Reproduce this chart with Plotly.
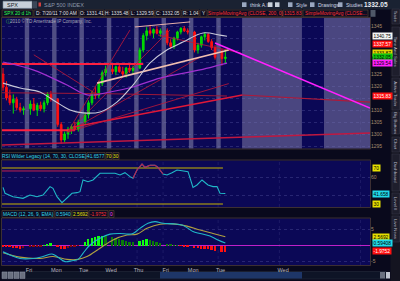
import plotly.graph_objects as go

W, H = 400, 281

# ---------------- data ----------------
# hourly bars on a session axis: one slot per bar, one empty slot per overnight gap
bar_slot = [0, 1, 2, 3, 4, 5, 6,
            8, 9, 10, 11, 12, 13, 14,
            16, 17, 18, 19, 20, 21, 22,
            24, 25, 26, 27, 28, 29, 30,
            32, 33, 34, 35, 36, 37, 38,
            40, 41, 42, 43, 44, 45, 46,
            48, 49, 50, 51, 52, 53, 54,
            56, 57, 58, 59, 60, 61, 62,
            64, 65]
opens = [1325.0, 1319.5, 1316.0, 1313.0, 1314.5, 1311.0, 1310.0,
         1310.5, 1312.5, 1310.0, 1312.0, 1310.5, 1313.0, 1316.5,
         1314.5, 1304.0, 1297.5, 1300.0, 1302.0, 1303.0, 1302.0,
         1305.0, 1308.0, 1313.0, 1317.0, 1316.0, 1321.0, 1325.5,
         1327.0, 1326.0, 1328.0, 1326.0, 1325.0, 1327.5, 1326.5,
         1327.5, 1335.0, 1341.0, 1343.0, 1342.0, 1343.5, 1342.0,
         1343.0, 1338.0, 1336.5, 1340.0, 1342.5, 1344.0, 1343.0,
         1342.5, 1335.0, 1337.0, 1340.5, 1341.5, 1338.5, 1336.0,
         1334.5, 1331.41]
highs = [1327.5, 1322.0, 1318.5, 1316.5, 1315.5, 1313.0, 1311.5,
         1314.0, 1315.0, 1313.0, 1313.5, 1314.0, 1317.5, 1318.0,
         1315.0, 1305.0, 1301.0, 1303.0, 1304.0, 1305.0, 1306.0,
         1309.0, 1314.0, 1318.0, 1319.5, 1322.0, 1326.5, 1328.5,
         1329.0, 1328.5, 1329.5, 1328.0, 1328.0, 1329.0, 1328.5,
         1336.0, 1342.0, 1344.5, 1345.5, 1344.0, 1345.0, 1344.0,
         1344.0, 1339.5, 1340.5, 1343.0, 1344.5, 1345.0, 1344.0,
         1343.0, 1338.0, 1341.0, 1342.5, 1342.0, 1339.5, 1337.0,
         1335.5, 1335.48]
lows = [1318.0, 1314.0, 1312.0, 1308.5, 1310.0, 1309.0, 1308.0,
        1308.0, 1309.5, 1307.5, 1309.5, 1309.0, 1312.0, 1313.5,
        1303.0, 1296.0, 1296.5, 1298.0, 1300.0, 1301.5, 1301.0,
        1304.0, 1306.5, 1312.0, 1314.5, 1315.0, 1320.0, 1324.0,
        1325.0, 1324.5, 1325.5, 1324.0, 1323.5, 1325.5, 1325.0,
        1327.0, 1334.0, 1339.0, 1341.0, 1340.0, 1341.5, 1340.5,
        1337.0, 1335.5, 1335.5, 1339.0, 1341.5, 1342.5, 1341.5,
        1334.0, 1333.5, 1336.0, 1339.0, 1338.0, 1335.0, 1331.0,
        1328.5, 1329.59]
closes = [1319.5, 1315.0, 1313.0, 1314.5, 1311.0, 1310.0, 1310.5,
          1312.5, 1310.0, 1312.0, 1310.5, 1313.0, 1316.5, 1314.5,
          1304.0, 1297.5, 1300.0, 1302.0, 1303.0, 1302.0, 1305.0,
          1308.0, 1313.0, 1317.0, 1316.0, 1321.0, 1325.5, 1327.0,
          1326.0, 1328.0, 1326.0, 1325.0, 1327.5, 1326.5, 1327.5,
          1335.0, 1341.0, 1343.0, 1342.0, 1343.5, 1342.0, 1343.0,
          1338.0, 1336.5, 1340.0, 1342.5, 1344.0, 1343.0, 1342.5,
          1335.0, 1337.0, 1340.5, 1341.5, 1338.5, 1336.0, 1332.0,
          1331.41, 1332.05]

gap_slots = [7, 15, 23, 31, 39, 47, 55, 63]
day_tick_slots = [7.6, 15.6, 23.6, 31.6, 39.6, 47.6, 55.6, 63.6, 81.9]
day_tick_text = ["Fri", "Mon", "Tue", "Wed", "Thu", "Fri", "Mon", "Tue", "Wed"]
future_blocks = [(69.9, 87.4), (93.85, 107.3)]
vgrid_slots = [39.2, 46.8, 62.9, 80.8, 104.5]

# moving averages (slot, value)
white_ma_x = [0, 5, 10.8, 14.6, 19.6, 23.4, 28.4, 33.3, 38, 43, 47.9, 52.6, 58.5, 63.4, 65.5]
white_ma_y = [1321.2, 1319.2, 1317.5, 1314.2, 1310.0, 1308.8, 1309.2, 1313.3, 1320.4, 1329.6,
              1335.0, 1338.3, 1342.1, 1341.2, 1340.75]
purple_ma_x = [0, 8.8, 18.7, 24.6, 31.3, 38, 45.9, 57.6, 63.4, 65.5]
purple_ma_y = [1330.0, 1326.7, 1320.4, 1316.3, 1317.5, 1319.6, 1323.3, 1326.7, 1328.8, 1329.54]
sma200_x = [-0.3, 30, 65.5]
sma200_y = [1317.2, 1316.8, 1315.83]

# chart drawings: (slot0, price0, slot1, price1)
drawings = {
    "red_h_upper": (-0.3, 1329.2, 41.0, 1329.2),
    "red_h_lower": (-0.3, 1301.6, 21.0, 1301.6),
    "red_rise": (20.5, 1302.9, 70.0, 1316.25),
    "red_future": (70.0, 1316.25, 107.3, 1313.3),
    "red_bottom": (-0.3, 1295.4, 107.3, 1300.4),
    "fan1": (18.9, 1300.8, 37.1, 1343.3),
    "fan2": (18.9, 1300.8, 48.8, 1343.3),
    "fan3": (18.9, 1300.8, 57.6, 1332.0),
    "fan4": (18.9, 1300.8, 66.0, 1321.0),
    "desc1": (9.0, 1333.0, 28.0, 1316.0),
    "desc2": (45.3, 1341.25, 69.6, 1333.75),
    "peach_low": (27.5, 1321.2, 66.0, 1335.0),
    "peach_top": (38.6, 1344.6, 54.7, 1346.7),
    "magenta": (62.0, 1337.9, 107.3, 1310.8),
}

rsi_x = [0, 0.58, 2.92, 5.84, 7.89, 9.93, 11.69, 13.74, 14.61, 15.78, 17.24, 18.71, 20.17, 21.63,
         22.51, 23.38, 24.85, 26.31, 28.35, 30.40, 32.74, 34.20, 35.66, 37.13, 38.00, 39.17,
         40.64, 41.51, 42.98, 44.44, 45.31, 46.78, 47.95, 49.41, 50.87, 52.33, 54.09, 55.55,
         56.72, 58.18, 59.93, 61.40, 62.57, 63.44, 65.0]
rsi_y = [48.5, 41.9, 38.1, 36.3, 40.0, 38.0, 40.0, 49.3, 47.4, 38.1, 31.5, 36.3, 41.9, 42.6,
         43.7, 56.7, 54.8, 56.7, 64.1, 64.1, 64.1, 62.2, 64.8, 60.4, 58.5, 67.8, 74.4, 70.7,
         73.0, 73.0, 70.7, 63.3, 62.2, 64.8, 67.8, 67.0, 65.9, 48.5, 51.1, 56.7, 51.1, 49.3,
         49.3, 41.9, 41.66]
rsi_hot = (24, 31)       # index span drawn in the overbought colour
rsi_drawn_level = (-0.3, 66.7, 22.5, 66.7)
rsi_levels = [70, 30]

macd_x = [0, 2.04, 4.96, 8.76, 11.69, 14.32, 15.78, 18.12, 20.17, 21.92, 23.38, 25.43, 28.35,
          31.28, 34.20, 36.54, 38.00, 40.05, 42.39, 44.44, 46.78, 49.70, 52.33, 54.09, 55.55,
          57.6, 60.52, 62.86, 65.0]
macd_y = [-2.1, -3.1, -4.2, -4.2, -3.6, -2.8, -3.6, -5.2, -4.9, -4.5, -2.6, 0.0, 2.1, 3.4, 3.6,
          3.4, 3.6, 5.2, 6.8, 7.3, 6.8, 6.6, 6.25, 5.2, 4.2, 3.6, 2.8, 1.6, 0.594]
sig_x = [0, 4.96, 10.81, 14.61, 18.71, 21.92, 24.55, 28.35, 32.16, 36.25, 39.17, 42.1, 45.9,
         49.7, 53.8, 57.6, 61.4, 65.0]
sig_y = [-2.4, -3.8, -4.2, -3.6, -4.5, -4.5, -3.6, -1.0, 1.6, 3.1, 3.4, 5.2, 6.5, 6.6, 5.9,
         4.7, 3.6, 2.5692]
hist = [-0.3, -0.5, -0.6, -0.8, -0.9, -1.0, -0.8,
        -0.6, -0.4, -0.3, -0.2, 0.1, 0.5, 0.8,
        -0.5, -1.0, -1.1, -0.9, -0.6, -0.3, -0.1,
        1.2, 1.9, 2.4, 2.8, 3.0, 3.1, 3.0,
        2.6, 2.2, 1.9, 1.6, 1.4, 1.2, 1.1,
        1.4, 1.8, 1.9, 1.7, 1.5, 1.2, 0.9,
        0.6, 0.3, 0.15, 0.05, -0.05, -0.2, -0.4,
        -0.7, -0.9, -1.0, -1.1, -1.2, -1.4, -1.6,
        -1.9, -1.975]

price_ticks = [1295, 1300, 1305, 1310, 1315, 1320, 1325, 1330, 1335, 1340, 1345]
price_tick_text = ["1295", "1300", "1305", "1310", "", "1320", "1325", "", "", "", "1345"]
price_boxes = [(1340.75, "1340.75", "#f4f4f4", "#000000"),
               (1337.57, "1337.57", "#ff1010", "#ffffff"),
               (1333.87, "1333.87", "#e6d800", "#000000"),
               (1332.05, "1332.05", "#10c810", "#000000"),
               (1329.54, "1329.54", "#ff20ff", "#000000"),
               (1315.83, "1315.83", "#ff1010", "#ffffff")]
rsi_boxes = [(70, "70", "#e6e000", "#000000"), (41.658, "41.658", "#20d8e8", "#000000"),
             (30, "30", "#e6e000", "#000000")]
macd_boxes = [(2.5692, "2.5692", "#e6e000", "#000000"), (0.59408, "0.59408", "#20d8e8", "#000000"),
              (-1.9752, "-1.9752", "#ff1010", "#ffffff")]

header_items = [(2, 33, "SPX 20 d 1h", "#30ff50"), (34, 79, "D: 7/20/11 7:00 AM", "#e0e0e0"),
                (80, 104, "O: 1331.41", "#e0e0e0"), (105, 129, "H: 1335.48", "#e0e0e0"),
                (130, 154, "L: 1329.59", "#e0e0e0"), (155, 181, "C: 1332.05", "#e0e0e0"),
                (182, 199, "R: 1.04", "#e0e0e0"), (200, 207, "Y", "#e0e0e0"),
                (208, 282, "SimpleMovingAvg (CLOSE, 200, 0)", "#ff3030"),
                (283, 302, "1315.83", "#ff3030"), (303, 368, "SimpleMovingAvg (CLOSE...", "#ff3030")]
rsi_items = [(2, 86, "RSI Wilder Legacy (14, 70, 30, CLOSE)", "#30d8e8"),
             (87, 105, "41.6577", "#30d8e8"), (106, 112, "70", "#e6e000"), (113, 119, "30", "#e6e000")]
macd_items = [(2, 54, "MACD (12, 26, 9, EMA)", "#30d8e8"), (55, 71, "0.5940", "#30d8e8"),
              (72, 88, "2.5692", "#e6e000"), (89, 108, "-1.9752", "#ff3030"), (109, 114, "0", "#ff40ff")]
tabs = [(9, 24, "Trade"), (27, 76, "Time And Sales"), (78, 110, "Active Trader"),
        (112, 134, "Big Buttons"), (137, 152, "Chart"), (154, 191, "Dashboard"),
        (193, 214, "Level II"), (216, 242, "Live News")]

# ---------------- layout geometry (pixels) ----------------
X_MIN, X_MAX = -0.3, 107.3
PLOT_L, PLOT_R = 2, 370
P_TOP, P_BOT = 18, 148.5
R_TOP, R_BOT = 160.5, 207
M_TOP, M_BOT = 218.5, 265
FONT = "Liberation Sans"
GRID = "rgba(120,120,190,0.28)"


def fx(x):
    return x / W


def fy(y):
    return 1 - y / H


fig = go.Figure()

fig.add_trace(go.Candlestick(
    x=bar_slot, open=opens, high=highs, low=lows, close=closes, xaxis="x", yaxis="y",
    increasing=dict(line=dict(color="#00e000", width=1), fillcolor="#00d000"),
    decreasing=dict(line=dict(color="#ff1010", width=1), fillcolor="#ff1010"),
    whiskerwidth=0, showlegend=False, hoverinfo="skip"))

fig.add_trace(go.Scatter(x=sma200_x, y=sma200_y, mode="lines", line=dict(color="#a01838", width=1),
                         yaxis="y", showlegend=False, hoverinfo="skip"))
draw_style = {
    "red_h_upper": ("#ff2040", 2), "red_h_lower": ("#ff2040", 2), "red_rise": ("#e01838", 1.5),
    "red_future": ("#b01838", 1.2), "red_bottom": ("#c01840", 1.5),
    "fan1": ("#c01838", 0.8), "fan2": ("#c01838", 0.8), "fan3": ("#c01838", 0.8),
    "fan4": ("#c01838", 0.8), "desc1": ("#c01838", 0.8), "desc2": ("#c01838", 0.8),
    "peach_low": ("#f2c0b0", 1.6), "peach_top": ("#e8b0a8", 1.0), "magenta": ("#ff20ff", 1.5),
}
for name, (x0, y0, x1, y1) in drawings.items():
    if name == "magenta":
        continue
    c, w = draw_style[name]
    fig.add_trace(go.Scatter(x=[x0, x1], y=[y0, y1], mode="lines", line=dict(color=c, width=w),
                             yaxis="y", showlegend=False, hoverinfo="skip"))
fig.add_trace(go.Scatter(x=purple_ma_x, y=purple_ma_y, mode="lines", line=dict(color="#a030d0", width=1.2),
                         line_shape="spline", yaxis="y", showlegend=False, hoverinfo="skip"))
fig.add_trace(go.Scatter(x=white_ma_x, y=white_ma_y, mode="lines", line=dict(color="#c8c8d8", width=1.1),
                         line_shape="spline", yaxis="y", showlegend=False, hoverinfo="skip"))
x0, y0, x1, y1 = drawings["magenta"]
c, w = draw_style["magenta"]
fig.add_trace(go.Scatter(x=[x0, x1], y=[y0, y1], mode="lines", line=dict(color=c, width=w),
                         yaxis="y", showlegend=False, hoverinfo="skip"))

# RSI
for lv in rsi_levels:
    fig.add_trace(go.Scatter(x=[X_MIN, 64.3], y=[lv, lv], mode="lines", line=dict(color="#c8b400", width=1),
                             yaxis="y2", showlegend=False, hoverinfo="skip"))
a0, b0, a1, b1 = rsi_drawn_level
fig.add_trace(go.Scatter(x=[a0, a1], y=[b0, b1], mode="lines", line=dict(color="#c02050", width=1),
                         yaxis="y2", showlegend=False, hoverinfo="skip"))
fig.add_trace(go.Scatter(x=rsi_x, y=rsi_y, mode="lines", line=dict(color="#20b8c8", width=1.1),
                         yaxis="y2", showlegend=False, hoverinfo="skip"))
i0, i1 = rsi_hot
fig.add_trace(go.Scatter(x=rsi_x[i0:i1 + 1], y=rsi_y[i0:i1 + 1], mode="lines",
                         line=dict(color="#c0184a", width=1.1),
                         yaxis="y2", showlegend=False, hoverinfo="skip"))

# MACD
hcol = []
for i, v in enumerate(hist):
    prev = hist[i - 1] if i > 0 else 0
    if v >= 0:
        hcol.append("#10ff10" if v >= prev else "#0a7a0a")
    else:
        hcol.append("#ff1010" if v <= prev else "#8a0a0a")
fig.add_trace(go.Bar(x=bar_slot, y=hist, width=0.55, marker=dict(color=hcol, line=dict(width=0)),
                     yaxis="y3", showlegend=False, hoverinfo="skip"))
fig.add_trace(go.Scatter(x=sig_x, y=sig_y, mode="lines", line=dict(color="#b0a040", width=1.1),
                         line_shape="spline", yaxis="y3", showlegend=False, hoverinfo="skip"))
fig.add_trace(go.Scatter(x=macd_x, y=macd_y, mode="lines", line=dict(color="#20b8c8", width=1.1),
                         line_shape="spline", yaxis="y3", showlegend=False, hoverinfo="skip"))

# ---------------- shapes ----------------
shapes = []


def prect(x0, y0, x1, y1, fill, line=None, lw=0.8, layer="below"):
    shapes.append(dict(type="rect", xref="paper", yref="paper", x0=fx(x0), x1=fx(x1), y0=fy(y1), y1=fy(y0),
                       fillcolor=fill, line=dict(color=line or fill, width=lw if line else 0), layer=layer))


# toolbar and header rows
prect(0, 0, 400, 9.5, "#1a2232")
prect(3, 1.2, 32, 8.3, "#c8d0da", "#8090a0", 0.6)
prect(33, 1.2, 37, 8.3, "#3a4658")
prect(38.5, 2.5, 41, 6.5, "#d04040")
prect(242, 2.3, 246.5, 7, "#9aa8c0")
prect(288, 2.3, 292.5, 7, "#9aa8c0")
prect(310, 2.3, 314.5, 7, "#9aa8c0")
prect(338, 2.3, 342.5, 7, "#9aa8c0")
prect(268, 2.3, 272.5, 7, "#c8d0da")
prect(275, 2.3, 279.5, 7, "#c8d0da")
for (a, b, _, _) in header_items:
    prect(a, 10, b, 16.8, "#0c0c22", "#5a4632", 0.6)
prect(370.5, 10, 375.5, 16.8, "#505868")
for (a, b, _, _) in rsi_items:
    prect(a, 152.5, b, 159.5, "#0c0c22", "#5a4632", 0.6)
for (a, b, _, _) in macd_items:
    prect(a, 210.5, b, 217.5, "#0c0c22", "#5a4632", 0.6)
# right tab column
prect(390.5, 9.5, 400, 281, "#141420")
for (a, b, _) in tabs:
    prect(392, a, 399.5, b, "#1e1e2c", "#3a3a4a", 0.5)
# scrollbar
prect(2, 271.5, 386, 279, "#0e1426", "#2a3040", 0.5)
prect(160, 272, 302, 278.5, "#1e3668")
for bx in [2, 8, 14, 20]:
    prect(bx, 272, bx + 5, 278.5, "#6a7080", "#9aa0b0", 0.4)
prect(380, 272, 385, 278.5, "#6a7080")
prect(386, 272, 390, 278.5, "#c0c4d0")
# panel borders
for (t, b) in [(P_TOP, P_BOT), (R_TOP, R_BOT), (M_TOP, M_BOT)]:
    prect(PLOT_L - 0.5, t - 0.5, PLOT_R + 0.5, b + 0.5, "rgba(0,0,0,0)", "#4a3a3a", 0.8, layer="above")

# session gap bands and future area in the price panel
for g in gap_slots:
    shapes.append(dict(type="rect", xref="x", yref="y domain", x0=g - 0.65, x1=g + 0.65, y0=0, y1=1,
                       fillcolor="#504e84", line=dict(width=0), layer="below"))
for (a, b) in future_blocks:
    shapes.append(dict(type="rect", xref="x", yref="y domain", x0=a, x1=b, y0=0, y1=1,
                       fillcolor="#4a4680", line=dict(width=0), layer="below"))
for ax in ["y", "y2", "y3"]:
    for g in vgrid_slots:
        shapes.append(dict(type="line", xref="x", yref=ax + " domain", x0=g, x1=g, y0=0, y1=1,
                           line=dict(color=GRID, width=0.6, dash="dot"), layer="below"))

# ---------------- annotations ----------------
ann = []


def text(x, y, s, color, size=5, anchor="left", bold=False, angle=0, yref="paper", xref="paper",
         bg=None):
    d = dict(x=x, y=y, xref=xref, yref=yref, text=("<b>%s</b>" % s) if bold else s, showarrow=False,
             xanchor=anchor, yanchor="middle", textangle=angle,
             font=dict(family=FONT, size=size, color=color))
    if bg:
        d.update(bgcolor=bg, borderpad=0.6)
    ann.append(d)


text(fx(5), fy(4.8), "SPX", "#101820", 5.5)
text(fx(42), fy(4.8), "S&P 500 INDEX", "#8a96a8", 5.5)
text(fx(248), fy(4.8), "think A.I.", "#d0d8e4", 5)
text(fx(293.5), fy(4.8), "Style", "#d0d8e4", 5)
text(fx(315.5), fy(4.8), "Drawings", "#d0d8e4", 5)
text(fx(343.5), fy(4.8), "Studies", "#d0d8e4", 5)
text(fx(362), fy(4.8), "1332.05", "#e8ecf4", 6.5, bold=True)
for (a, b, s, c) in header_items:
    text(fx((a + b) / 2), fy(13.5), s, c, 4.8, anchor="center")
for (a, b, s, c) in rsi_items:
    text(fx((a + b) / 2), fy(156), s, c, 4.8, anchor="center")
for (a, b, s, c) in macd_items:
    text(fx((a + b) / 2), fy(214), s, c, 4.8, anchor="center")
text(fx(3.5), fy(20.8), "ⓘ", "#40c040", 4.5)
text(fx(8), fy(20.8), "2010 © TD Ameritrade IP Company, Inc.", "#a8a8b8", 4.6)
for (a, b, s) in tabs:
    text(fx(395.8), fy((a + b) / 2), s, "#b8b8c8", 4.3, anchor="center", angle=90)
for (v, s, bg, fc) in price_boxes:
    text(fx(371.5), v, s, fc, 4.8, yref="y", bg=bg)
for (v, s, bg, fc) in rsi_boxes:
    text(fx(371.5), v, s, fc, 4.8, yref="y2", bg=bg)
for (v, s, bg, fc) in macd_boxes:
    text(fx(371.5), v, s, fc, 4.8, yref="y3", bg=bg)

fig.update_layout(
    width=W, height=H, margin=dict(l=0, r=0, t=0, b=0),
    paper_bgcolor="#09091c", plot_bgcolor="#0b0856",
    hovermode=False, showlegend=False, bargap=0,
    shapes=shapes, annotations=ann,
    xaxis=dict(domain=[fx(PLOT_L), fx(PLOT_R)], range=[X_MIN, X_MAX], anchor="y3",
               tickvals=day_tick_slots, ticktext=day_tick_text, showgrid=False, zeroline=False,
               ticks="", tickfont=dict(family=FONT, size=5.5, color="#b8b8c0"),
               rangeslider=dict(visible=False), fixedrange=True),
    yaxis=dict(domain=[fy(P_BOT), fy(P_TOP)], range=[1345 - (P_BOT - 26) / 2.4, 1345 + (26 - P_TOP) / 2.4],
               anchor="x", side="right", tickvals=price_ticks, ticktext=price_tick_text,
               showgrid=True, gridcolor=GRID, gridwidth=0.5, griddash="dot", zeroline=False,
               ticks="", tickfont=dict(family=FONT, size=5, color="#a88c6c")),
    yaxis2=dict(domain=[fy(R_BOT), fy(R_TOP)], range=[30 - (R_BOT - 204) / 0.9, 70 + (168 - R_TOP) / 0.9],
                anchor="x", side="right", tickvals=[40, 60], ticktext=["", "60"],
                showgrid=True, gridcolor=GRID, gridwidth=0.5, griddash="dot", zeroline=False,
                ticks="", tickfont=dict(family=FONT, size=5, color="#a88c6c")),
    yaxis3=dict(domain=[fy(M_BOT), fy(M_TOP)], range=[-(M_BOT - 245) / 3.2, (245 - M_TOP) / 3.2],
                anchor="x", side="right", tickvals=[-5, 5], ticktext=["-5", "5"],
                showgrid=True, gridcolor=GRID, gridwidth=0.5, griddash="dot",
                zeroline=True, zerolinecolor="#c020c8", zerolinewidth=1,
                ticks="", tickfont=dict(family=FONT, size=5, color="#a88c6c")),
)

fig.write_html("out.html")
